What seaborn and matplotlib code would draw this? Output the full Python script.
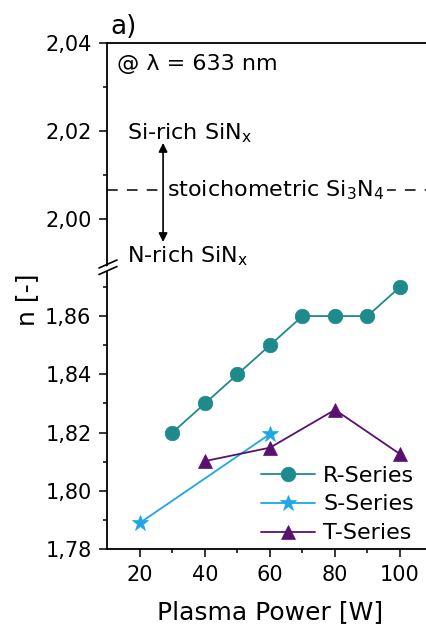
import matplotlib
matplotlib.use('Agg')
import matplotlib.pyplot as plt
from matplotlib.lines import Line2D
from matplotlib.patches import Polygon
from matplotlib.ticker import FixedLocator, MultipleLocator, FuncFormatter
import seaborn as sns
import pandas as pd

# --- dados --- #
r_power = [30, 40, 50, 60, 70, 80, 90, 100]
r_n = [1.820, 1.830, 1.840, 1.850, 1.860, 1.860, 1.860, 1.870]

s_power = [20, 60]
s_n = [1.789, 1.8195]

t_power = [40, 60, 80, 100]
t_n = [1.8102, 1.8148, 1.8278, 1.8126]

n_stoich = 2.0066

cor_r = '#1f8a8c'
cor_s = '#1ea6e6'
cor_t = '#5a1070'

sns.set_style('ticks')
plt.rcParams['font.family'] = ['DejaVu Sans']
plt.rcParams['mathtext.fontset'] = 'dejavusans'
for k in ('text.color', 'axes.labelcolor', 'xtick.color', 'ytick.color'):
    plt.rcParams[k] = 'black'

W, H = 427, 628
fig = plt.figure(figsize=(W / 100, H / 100), dpi=100)


def px(x, y):
    return x / W, 1 - y / H


# eixos: inferior (dados) e superior (faixa 1,99-2,04)
x0, x1 = 107.5, 432.5
y_top, y_brk, y_bot = 43, 268, 549
ax_up = fig.add_axes([x0 / W, 1 - y_brk / H, (x1 - x0) / W, (y_brk - y_top) / H])
ax = fig.add_axes([x0 / W, 1 - y_bot / H, (x1 - x0) / W, (y_bot - y_brk) / H])

series = [
    ('R-Series', r_power, r_n, cor_r, 'o', 10.5),
    ('S-Series', s_power, s_n, cor_s, '*', 12),
    ('T-Series', t_power, t_n, cor_t, '^', 10.5),
]
for nome, xs, ys, cor, mk, ms in series:
    df = pd.DataFrame({'P': xs, 'n': ys})
    sns.lineplot(data=df, x='P', y='n', ax=ax, color=cor, marker=mk,
                 markersize=ms, markeredgecolor=cor, markeredgewidth=0.5,
                 linewidth=1.3, label=nome)

virgula = FuncFormatter(lambda v, p: f'{v:.2f}'.replace('.', ','))

for a in (ax, ax_up):
    a.set_xlim(10, 110)
    a.tick_params(axis='both', which='major', labelsize=15, direction='out',
                  length=5.5, width=1.1, color='k', pad=6)
    a.tick_params(axis='both', which='minor', direction='out', length=3,
                  width=1.1, color='k')
    for s in a.spines.values():
        s.set_linewidth(1.3)
        s.set_color('k')

ax.set_ylim(1.78, 1.8765)
ax.yaxis.set_major_locator(MultipleLocator(0.02))
ax.yaxis.set_minor_locator(MultipleLocator(0.01))
ax.yaxis.set_major_formatter(virgula)
ax.xaxis.set_major_locator(FixedLocator([20, 40, 60, 80, 100]))
ax.xaxis.set_minor_locator(FixedLocator([30, 50, 70, 90]))
ax.spines['top'].set_visible(False)
ax.set_xlabel('Plasma Power [W]', fontsize=18, labelpad=11)
ax.set_ylabel('')

ax_up.set_ylim(1.9889, 2.04)
ax_up.yaxis.set_major_locator(FixedLocator([2.00, 2.02, 2.04]))
ax_up.yaxis.set_minor_locator(FixedLocator([2.01, 2.03]))
ax_up.yaxis.set_major_formatter(virgula)
ax_up.set_xticks([])
ax_up.spines['bottom'].set_visible(False)
ax_up.patch.set_alpha(0)

leg = ax.legend(loc='lower left', bbox_to_anchor=(0.472, 0.02), frameon=False,
                fontsize=16, handlelength=2.45, handletextpad=0.35,
                labelspacing=0.4, borderpad=0, borderaxespad=0)

# anotações no eixo superior
ax_up.axhline(n_stoich, color='k', lw=1.1, ls=(0, (7, 6)))
ax_up.text(12.9, 2.0339, '@ λ = 633 nm', fontsize=16, va='baseline')
ax_up.text(16.0, 2.018, r'Si-rich SiN$_\mathregular{x}$', fontsize=16, va='baseline')
ax_up.text(16.0, 1.9902, r'N-rich SiN$_\mathregular{x}$', fontsize=16, va='baseline')
ax_up.text(28.4, 2.0052, r'stoichometric Si$_\mathregular{3}$N$_\mathregular{4}$',
           fontsize=16, va='baseline',
           bbox=dict(facecolor='white', edgecolor='none', pad=1.5), zorder=3)
ax_up.annotate('', xy=(27.1, 2.0173), xytext=(27.1, 1.9948),
               arrowprops=dict(arrowstyle='<|-|>', color='k', lw=1.2,
                               mutation_scale=13, shrinkA=0, shrinkB=0),
               zorder=5)

# marcas de quebra do eixo
fig.add_artist(Polygon([px(103, 268), px(112, 264), px(112, 269), px(103, 273)],
                       closed=True, transform=fig.transFigure,
                       facecolor='white', edgecolor='none', zorder=10))
for dy in (0, 6.5):
    xa, ya = px(99, 268 + dy)
    xb, yb = px(117, 260 + dy)
    fig.add_artist(Line2D([xa, xb], [ya, yb], transform=fig.transFigure,
                          color='k', lw=1.2, zorder=11))

fig.text(*px(27, 300), 'n [-]', rotation=90, fontsize=18, ha='center', va='center')
fig.text(*px(110, 34), 'a)', fontsize=19, ha='left', va='baseline')

plt.savefig('out.png', dpi=100)
plt.close()
